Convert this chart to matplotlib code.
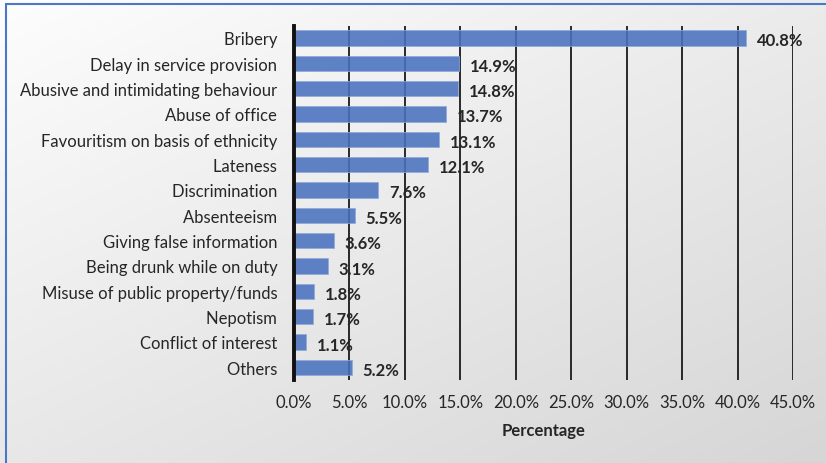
import numpy as np
import matplotlib
matplotlib.use('Agg')
import matplotlib.pyplot as plt
from matplotlib.patches import Rectangle

categories = ['Bribery', 'Delay in service provision', 'Abusive and intimidating behaviour',
              'Abuse of office', 'Favouritism on basis of ethnicity', 'Lateness',
              'Discrimination', 'Absenteeism', 'Giving false information',
              'Being drunk while on duty', 'Misuse of public property/funds',
              'Nepotism', 'Conflict of interest', 'Others']
values = [40.8, 14.9, 14.8, 13.7, 13.1, 12.1, 7.6, 5.5, 3.6, 3.1, 1.8, 1.7, 1.1, 5.2]
xticks = [0, 5, 10, 15, 20, 25, 30, 35, 40, 45]

plt.rcParams['font.family'] = ['Lato', 'DejaVu Sans']

fig = plt.figure(figsize=(8.26, 4.64), dpi=100)

# background gradient (light, white top-left to grey bottom-right)
bg = fig.add_axes([0, 0, 1, 1], zorder=-10)
yy, xx = np.mgrid[0:1:200j, 0:1:200j]
grad = 0.55 * yy + 0.45 * xx
bg.imshow(grad, cmap=matplotlib.colors.LinearSegmentedColormap.from_list(
    'g', ['#fdfdfd', '#d6d6d6']), aspect='auto', extent=[0, 1, 0, 1], origin='upper')
bg.add_patch(Rectangle((6 / 826, -0.1), 1.1, 1 - 5 / 464 + 0.1, fill=False,
                       edgecolor='#4a78c9', linewidth=1.5, transform=bg.transAxes))
bg.set_xlim(0, 1)
bg.set_ylim(0, 1)
bg.axis('off')

ax = fig.add_axes([294 / 826, 1 - 381 / 464, (793 - 294) / 826, (381 - 27) / 464])
ax.patch.set_alpha(0)
y = np.arange(len(categories))
ax.barh(y, values, height=0.6, color='#4a72bf', alpha=0.88,
        edgecolor='#8fa9dc', linewidth=0.6, zorder=3)
for yi, v in zip(y, values):
    ax.text(v + 0.95, yi + 0.1, f'{v:.1f}%', va='center', ha='left',
            fontsize=12, fontweight='bold', color='#262626', zorder=4)

ax.set_xlim(0, 45)
ax.set_ylim(13.5, -0.47)
ax.set_xticks(xticks)
ax.set_xticklabels([f'{t:.1f}%' for t in xticks], fontsize=12, color='#262626')
ax.set_yticks(y)
ax.set_yticklabels([c + ' ' for c in categories], fontsize=12, color='#262626')
ax.tick_params(axis='both', length=0, pad=9)
ax.tick_params(axis='x', pad=10)
ax.grid(axis='x', color='#1a1a1a', linewidth=1.3, zorder=1)
ax.set_axisbelow(True)
for s in ['top', 'right', 'bottom']:
    ax.spines[s].set_visible(False)
ax.spines['left'].set_linewidth(2.8)
ax.spines['left'].set_color('#111111')
ax.spines['left'].set_zorder(5)
ax.set_xlabel('Percentage', fontsize=12, fontweight='bold', color='#262626', labelpad=9)

fig.savefig('out.png', dpi=100)
